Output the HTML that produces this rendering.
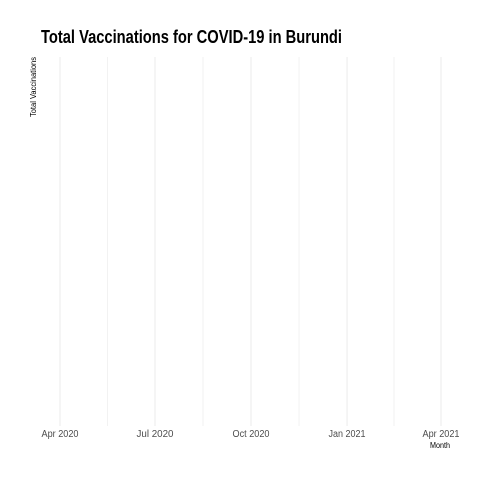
<!DOCTYPE html>
<html><head><meta charset="utf-8">
<style>
body{margin:0;background:#fff;}
svg{display:block;font-family:"Liberation Sans Narrow","Liberation Sans",sans-serif;}
</style></head>
<body>
<svg id="chart" width="480" height="480">
  <text x="41" y="43" font-size="18" font-weight="bold" fill="#000" textLength="301" lengthAdjust="spacingAndGlyphs">Total Vaccinations for COVID-19 in Burundi</text>
  <text transform="translate(36,87) rotate(-90)" text-anchor="middle" font-size="8" fill="#000" textLength="60" lengthAdjust="spacingAndGlyphs">Total Vaccinations</text>
  <text x="440" y="448" text-anchor="middle" font-size="8" fill="#000" textLength="20" lengthAdjust="spacingAndGlyphs">Month</text>
  <g id="grid"></g>
  <g id="ticks"></g>
</svg>
<script>
const tickDates = ["2020-04-01","2020-07-01","2020-10-01","2021-01-01","2021-04-01"];
const tickLabels = ["Apr 2020","Jul 2020","Oct 2020","Jan 2021","Apr 2021"];
const dates = [];
const values = [];
const ns="http://www.w3.org/2000/svg";
const d0=Date.parse("2020-04-01"), d1=Date.parse("2021-04-01");
function x(d){return 60+(Date.parse(d)-d0)/(d1-d0)*381;}
const grid=document.getElementById('grid'), ticks=document.getElementById('ticks');
const panelTop=57,panelBot=426;
for(let i=0;i<tickDates.length;i++){
  const xx=x(tickDates[i]);
  const l=document.createElementNS(ns,'line');
  l.setAttribute('x1',xx);l.setAttribute('x2',xx);l.setAttribute('y1',panelTop);l.setAttribute('y2',panelBot);
  l.setAttribute('stroke','#ebebeb');l.setAttribute('stroke-width','1');
  
  
  grid.appendChild(l);
  if(i<tickDates.length-1){
    const mx=(xx+x(tickDates[i+1]))/2;
    const m=document.createElementNS(ns,'line');
    m.setAttribute('x1',mx);m.setAttribute('x2',mx);m.setAttribute('y1',panelTop);m.setAttribute('y2',panelBot);
    m.setAttribute('stroke','#f2f2f2');m.setAttribute('stroke-width','1');
    
    
    grid.appendChild(m);
  }
  const t=document.createElementNS(ns,'text');
  t.setAttribute('x',xx);t.setAttribute('y',437);t.setAttribute('text-anchor','middle');
  t.setAttribute('font-size','10');t.setAttribute('fill','#4d4d4d');
  t.setAttribute('textLength','37');t.setAttribute('lengthAdjust','spacingAndGlyphs');
  t.textContent=tickLabels[i];
  
  
  ticks.appendChild(t);
}
</script>
</body></html>
